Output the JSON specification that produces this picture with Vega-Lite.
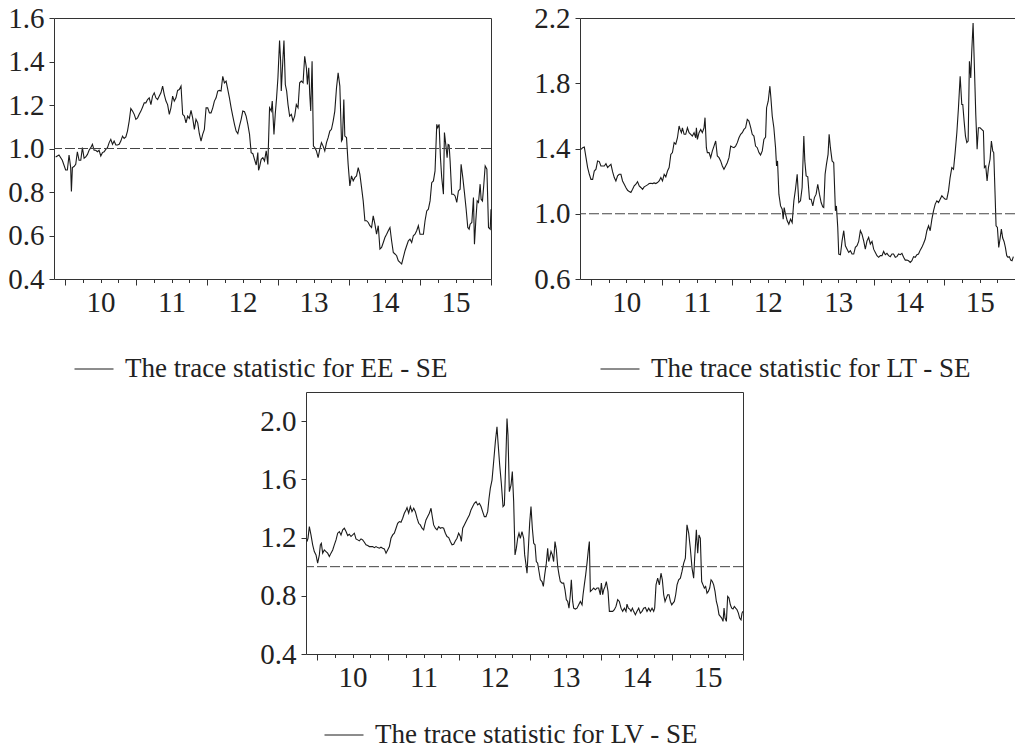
{
"$schema": "https://vega.github.io/schema/vega-lite/v6.json",
"background": "white",
"padding": {"left": 7, "top": 3, "right": 0, "bottom": 0},
"config": {
  "font": "Liberation Serif",
  "view": {"stroke": "#333", "strokeWidth": 1},
  "axis": {"labelFont": "Liberation Serif", "labelFontSize": 29, "labelColor": "#222", "domain": false, "tickColor": "#333", "tickWidth": 1, "grid": false, "title": null, "labelOverlap": false, "labelFlush": false}
},
"datasets": {
"ee": [
{"t":2009.868,"v":0.961},{"t":2009.915,"v":0.970},{"t":2009.962,"v":0.946},{"t":2010.009,"v":0.901},{"t":2010.033,"v":0.901},{"t":2010.057,"v":0.970},{"t":2010.080,"v":0.912},{"t":2010.090,"v":0.802},{"t":2010.104,"v":0.912},{"t":2010.127,"v":0.917},{"t":2010.151,"v":0.927},{"t":2010.174,"v":0.985},{"t":2010.198,"v":0.946},{"t":2010.222,"v":0.946},{"t":2010.245,"v":1.004},{"t":2010.269,"v":0.955},{"t":2010.292,"v":0.961},{"t":2010.316,"v":0.973},{"t":2010.339,"v":0.992},{"t":2010.363,"v":1.004},{"t":2010.386,"v":1.019},{"t":2010.410,"v":0.992},{"t":2010.433,"v":0.992},{"t":2010.457,"v":0.985},{"t":2010.480,"v":0.992},{"t":2010.504,"v":0.966},{"t":2010.527,"v":0.981},{"t":2010.551,"v":0.985},{"t":2010.574,"v":0.996},{"t":2010.598,"v":1.004},{"t":2010.622,"v":1.027},{"t":2010.645,"v":1.042},{"t":2010.669,"v":1.019},{"t":2010.692,"v":1.034},{"t":2010.716,"v":1.016},{"t":2010.739,"v":1.016},{"t":2010.763,"v":1.019},{"t":2010.786,"v":1.034},{"t":2010.810,"v":1.057},{"t":2010.833,"v":1.046},{"t":2010.857,"v":1.053},{"t":2010.880,"v":1.080},{"t":2010.904,"v":1.126},{"t":2010.927,"v":1.184},{"t":2010.951,"v":1.172},{"t":2010.975,"v":1.157},{"t":2010.998,"v":1.134},{"t":2011.022,"v":1.141},{"t":2011.045,"v":1.157},{"t":2011.069,"v":1.172},{"t":2011.092,"v":1.190},{"t":2011.116,"v":1.210},{"t":2011.139,"v":1.210},{"t":2011.163,"v":1.225},{"t":2011.186,"v":1.233},{"t":2011.210,"v":1.202},{"t":2011.233,"v":1.241},{"t":2011.257,"v":1.256},{"t":2011.280,"v":1.233},{"t":2011.304,"v":1.225},{"t":2011.328,"v":1.241},{"t":2011.351,"v":1.256},{"t":2011.375,"v":1.287},{"t":2011.398,"v":1.248},{"t":2011.422,"v":1.218},{"t":2011.445,"v":1.202},{"t":2011.469,"v":1.157},{"t":2011.492,"v":1.187},{"t":2011.516,"v":1.241},{"t":2011.539,"v":1.218},{"t":2011.563,"v":1.233},{"t":2011.586,"v":1.267},{"t":2011.610,"v":1.271},{"t":2011.634,"v":1.287},{"t":2011.657,"v":1.157},{"t":2011.681,"v":1.149},{"t":2011.704,"v":1.118},{"t":2011.728,"v":1.149},{"t":2011.751,"v":1.138},{"t":2011.775,"v":1.175},{"t":2011.798,"v":1.141},{"t":2011.822,"v":1.088},{"t":2011.845,"v":1.134},{"t":2011.869,"v":1.118},{"t":2011.892,"v":1.068},{"t":2011.916,"v":1.034},{"t":2011.939,"v":1.065},{"t":2011.963,"v":1.088},{"t":2011.987,"v":1.187},{"t":2012.010,"v":1.187},{"t":2012.034,"v":1.164},{"t":2012.057,"v":1.164},{"t":2012.081,"v":1.187},{"t":2012.104,"v":1.218},{"t":2012.128,"v":1.233},{"t":2012.151,"v":1.264},{"t":2012.175,"v":1.267},{"t":2012.198,"v":1.264},{"t":2012.222,"v":1.332},{"t":2012.245,"v":1.302},{"t":2012.269,"v":1.310},{"t":2012.293,"v":1.271},{"t":2012.316,"v":1.233},{"t":2012.340,"v":1.187},{"t":2012.363,"v":1.149},{"t":2012.387,"v":1.111},{"t":2012.410,"v":1.080},{"t":2012.434,"v":1.068},{"t":2012.457,"v":1.103},{"t":2012.481,"v":1.134},{"t":2012.504,"v":1.172},{"t":2012.528,"v":1.169},{"t":2012.551,"v":1.149},{"t":2012.575,"v":1.111},{"t":2012.599,"v":1.065},{"t":2012.622,"v":0.981},{"t":2012.646,"v":0.976},{"t":2012.669,"v":0.950},{"t":2012.693,"v":0.924},{"t":2012.716,"v":0.981},{"t":2012.726,"v":0.900},{"t":2012.740,"v":0.915},{"t":2012.763,"v":0.950},{"t":2012.787,"v":0.958},{"t":2012.810,"v":0.943},{"t":2012.834,"v":0.989},{"t":2012.857,"v":0.927},{"t":2012.881,"v":1.187},{"t":2012.905,"v":1.172},{"t":2012.919,"v":1.218},{"t":2012.943,"v":1.065},{"t":2012.961,"v":1.157},{"t":2012.980,"v":1.233},{"t":2012.999,"v":1.325},{"t":2013.022,"v":1.496},{"t":2013.037,"v":1.401},{"t":2013.046,"v":1.264},{"t":2013.070,"v":1.417},{"t":2013.084,"v":1.496},{"t":2013.103,"v":1.294},{"t":2013.122,"v":1.264},{"t":2013.141,"v":1.202},{"t":2013.164,"v":1.149},{"t":2013.188,"v":1.157},{"t":2013.211,"v":1.126},{"t":2013.235,"v":1.149},{"t":2013.258,"v":1.202},{"t":2013.282,"v":1.187},{"t":2013.305,"v":1.302},{"t":2013.329,"v":1.310},{"t":2013.353,"v":1.302},{"t":2013.376,"v":1.424},{"t":2013.400,"v":1.371},{"t":2013.414,"v":1.294},{"t":2013.433,"v":1.371},{"t":2013.447,"v":1.248},{"t":2013.461,"v":1.172},{"t":2013.480,"v":1.401},{"t":2013.499,"v":1.011},{"t":2013.518,"v":1.004},{"t":2013.541,"v":0.989},{"t":2013.565,"v":0.958},{"t":2013.588,"v":0.996},{"t":2013.612,"v":1.027},{"t":2013.635,"v":1.011},{"t":2013.659,"v":0.989},{"t":2013.683,"v":1.027},{"t":2013.706,"v":1.050},{"t":2013.730,"v":1.080},{"t":2013.753,"v":1.088},{"t":2013.777,"v":1.126},{"t":2013.800,"v":1.172},{"t":2013.824,"v":1.279},{"t":2013.847,"v":1.348},{"t":2013.871,"v":1.287},{"t":2013.894,"v":1.034},{"t":2013.908,"v":1.042},{"t":2013.927,"v":1.225},{"t":2013.941,"v":1.057},{"t":2013.965,"v":1.050},{"t":2013.988,"v":0.927},{"t":2014.012,"v":0.828},{"t":2014.035,"v":0.874},{"t":2014.059,"v":0.851},{"t":2014.082,"v":0.866},{"t":2014.106,"v":0.874},{"t":2014.130,"v":0.912},{"t":2014.153,"v":0.882},{"t":2014.177,"v":0.820},{"t":2014.200,"v":0.759},{"t":2014.224,"v":0.668},{"t":2014.247,"v":0.668},{"t":2014.271,"v":0.660},{"t":2014.294,"v":0.645},{"t":2014.318,"v":0.637},{"t":2014.341,"v":0.690},{"t":2014.365,"v":0.652},{"t":2014.388,"v":0.606},{"t":2014.412,"v":0.645},{"t":2014.436,"v":0.538},{"t":2014.459,"v":0.545},{"t":2014.483,"v":0.568},{"t":2014.506,"v":0.591},{"t":2014.530,"v":0.606},{"t":2014.553,"v":0.622},{"t":2014.577,"v":0.637},{"t":2014.600,"v":0.576},{"t":2014.624,"v":0.522},{"t":2014.647,"v":0.515},{"t":2014.671,"v":0.507},{"t":2014.694,"v":0.484},{"t":2014.718,"v":0.476},{"t":2014.742,"v":0.469},{"t":2014.765,"v":0.499},{"t":2014.789,"v":0.530},{"t":2014.812,"v":0.553},{"t":2014.836,"v":0.576},{"t":2014.859,"v":0.583},{"t":2014.883,"v":0.568},{"t":2014.906,"v":0.599},{"t":2014.930,"v":0.606},{"t":2014.953,"v":0.622},{"t":2014.977,"v":0.645},{"t":2015.000,"v":0.606},{"t":2015.024,"v":0.606},{"t":2015.048,"v":0.606},{"t":2015.071,"v":0.668},{"t":2015.095,"v":0.713},{"t":2015.118,"v":0.721},{"t":2015.142,"v":0.759},{"t":2015.165,"v":0.843},{"t":2015.189,"v":0.851},{"t":2015.212,"v":0.897},{"t":2015.236,"v":1.111},{"t":2015.250,"v":1.096},{"t":2015.269,"v":1.111},{"t":2015.288,"v":0.958},{"t":2015.306,"v":0.866},{"t":2015.330,"v":0.790},{"t":2015.344,"v":1.073},{"t":2015.368,"v":1.004},{"t":2015.382,"v":0.958},{"t":2015.396,"v":1.019},{"t":2015.410,"v":1.016},{"t":2015.424,"v":0.943},{"t":2015.447,"v":0.790},{"t":2015.471,"v":0.790},{"t":2015.494,"v":0.782},{"t":2015.518,"v":0.752},{"t":2015.541,"v":0.805},{"t":2015.565,"v":0.813},{"t":2015.579,"v":0.927},{"t":2015.603,"v":0.866},{"t":2015.626,"v":0.797},{"t":2015.650,"v":0.721},{"t":2015.673,"v":0.637},{"t":2015.692,"v":0.629},{"t":2015.706,"v":0.652},{"t":2015.730,"v":0.660},{"t":2015.753,"v":0.775},{"t":2015.767,"v":0.560},{"t":2015.786,"v":0.668},{"t":2015.805,"v":0.759},{"t":2015.824,"v":0.752},{"t":2015.847,"v":0.836},{"t":2015.861,"v":0.767},{"t":2015.880,"v":0.759},{"t":2015.899,"v":0.836},{"t":2015.918,"v":0.920},{"t":2015.942,"v":0.905},{"t":2015.965,"v":0.637},{"t":2015.989,"v":0.629},{"t":2016.000,"v":0.721}
],
"lt": [
{"t":2009.859,"v":1.395},{"t":2009.883,"v":1.405},{"t":2009.906,"v":1.409},{"t":2009.930,"v":1.344},{"t":2009.953,"v":1.283},{"t":2009.977,"v":1.242},{"t":2010.000,"v":1.211},{"t":2010.024,"v":1.211},{"t":2010.047,"v":1.262},{"t":2010.071,"v":1.273},{"t":2010.094,"v":1.324},{"t":2010.118,"v":1.320},{"t":2010.141,"v":1.293},{"t":2010.165,"v":1.293},{"t":2010.189,"v":1.293},{"t":2010.212,"v":1.307},{"t":2010.236,"v":1.283},{"t":2010.259,"v":1.293},{"t":2010.283,"v":1.303},{"t":2010.306,"v":1.258},{"t":2010.330,"v":1.222},{"t":2010.353,"v":1.201},{"t":2010.377,"v":1.232},{"t":2010.400,"v":1.242},{"t":2010.424,"v":1.242},{"t":2010.447,"v":1.201},{"t":2010.471,"v":1.181},{"t":2010.494,"v":1.161},{"t":2010.518,"v":1.144},{"t":2010.542,"v":1.136},{"t":2010.565,"v":1.130},{"t":2010.589,"v":1.150},{"t":2010.612,"v":1.171},{"t":2010.636,"v":1.181},{"t":2010.659,"v":1.197},{"t":2010.683,"v":1.171},{"t":2010.706,"v":1.161},{"t":2010.730,"v":1.150},{"t":2010.753,"v":1.165},{"t":2010.777,"v":1.171},{"t":2010.800,"v":1.177},{"t":2010.824,"v":1.185},{"t":2010.847,"v":1.187},{"t":2010.871,"v":1.185},{"t":2010.894,"v":1.189},{"t":2010.918,"v":1.185},{"t":2010.941,"v":1.191},{"t":2010.965,"v":1.201},{"t":2010.989,"v":1.222},{"t":2011.012,"v":1.201},{"t":2011.036,"v":1.242},{"t":2011.059,"v":1.226},{"t":2011.083,"v":1.262},{"t":2011.106,"v":1.283},{"t":2011.130,"v":1.364},{"t":2011.153,"v":1.375},{"t":2011.177,"v":1.436},{"t":2011.200,"v":1.426},{"t":2011.224,"v":1.466},{"t":2011.247,"v":1.538},{"t":2011.261,"v":1.517},{"t":2011.280,"v":1.497},{"t":2011.294,"v":1.527},{"t":2011.318,"v":1.487},{"t":2011.341,"v":1.487},{"t":2011.365,"v":1.527},{"t":2011.388,"v":1.497},{"t":2011.412,"v":1.487},{"t":2011.435,"v":1.476},{"t":2011.459,"v":1.497},{"t":2011.482,"v":1.466},{"t":2011.492,"v":1.527},{"t":2011.506,"v":1.456},{"t":2011.529,"v":1.497},{"t":2011.553,"v":1.517},{"t":2011.576,"v":1.497},{"t":2011.600,"v":1.527},{"t":2011.614,"v":1.589},{"t":2011.633,"v":1.405},{"t":2011.647,"v":1.375},{"t":2011.671,"v":1.375},{"t":2011.694,"v":1.344},{"t":2011.718,"v":1.385},{"t":2011.741,"v":1.415},{"t":2011.765,"v":1.446},{"t":2011.788,"v":1.354},{"t":2011.812,"v":1.344},{"t":2011.835,"v":1.324},{"t":2011.859,"v":1.293},{"t":2011.882,"v":1.273},{"t":2011.906,"v":1.293},{"t":2011.929,"v":1.313},{"t":2011.953,"v":1.344},{"t":2011.977,"v":1.415},{"t":2012.000,"v":1.409},{"t":2012.024,"v":1.405},{"t":2012.047,"v":1.415},{"t":2012.071,"v":1.436},{"t":2012.094,"v":1.466},{"t":2012.118,"v":1.487},{"t":2012.141,"v":1.497},{"t":2012.165,"v":1.517},{"t":2012.188,"v":1.527},{"t":2012.212,"v":1.578},{"t":2012.235,"v":1.568},{"t":2012.259,"v":1.531},{"t":2012.282,"v":1.487},{"t":2012.306,"v":1.476},{"t":2012.329,"v":1.415},{"t":2012.353,"v":1.405},{"t":2012.377,"v":1.375},{"t":2012.400,"v":1.360},{"t":2012.424,"v":1.385},{"t":2012.447,"v":1.456},{"t":2012.471,"v":1.470},{"t":2012.485,"v":1.650},{"t":2012.508,"v":1.690},{"t":2012.532,"v":1.782},{"t":2012.546,"v":1.711},{"t":2012.565,"v":1.599},{"t":2012.588,"v":1.527},{"t":2012.612,"v":1.405},{"t":2012.626,"v":1.293},{"t":2012.640,"v":1.324},{"t":2012.659,"v":1.120},{"t":2012.683,"v":1.048},{"t":2012.706,"v":1.028},{"t":2012.720,"v":0.967},{"t":2012.734,"v":1.038},{"t":2012.753,"v":0.997},{"t":2012.777,"v":0.957},{"t":2012.800,"v":0.936},{"t":2012.824,"v":0.967},{"t":2012.847,"v":0.946},{"t":2012.871,"v":1.079},{"t":2012.894,"v":1.150},{"t":2012.918,"v":1.242},{"t":2012.941,"v":1.069},{"t":2012.965,"v":1.079},{"t":2012.988,"v":1.161},{"t":2013.012,"v":1.476},{"t":2013.026,"v":1.324},{"t":2013.045,"v":1.232},{"t":2013.068,"v":1.226},{"t":2013.092,"v":1.089},{"t":2013.115,"v":1.089},{"t":2013.139,"v":1.048},{"t":2013.162,"v":1.099},{"t":2013.186,"v":1.120},{"t":2013.209,"v":1.181},{"t":2013.233,"v":1.120},{"t":2013.257,"v":1.069},{"t":2013.280,"v":1.042},{"t":2013.294,"v":1.038},{"t":2013.313,"v":1.242},{"t":2013.332,"v":1.303},{"t":2013.355,"v":1.364},{"t":2013.370,"v":1.487},{"t":2013.388,"v":1.405},{"t":2013.412,"v":1.324},{"t":2013.435,"v":1.313},{"t":2013.459,"v":1.018},{"t":2013.473,"v":1.048},{"t":2013.492,"v":0.916},{"t":2013.506,"v":0.753},{"t":2013.530,"v":0.749},{"t":2013.553,"v":0.834},{"t":2013.577,"v":0.896},{"t":2013.600,"v":0.804},{"t":2013.624,"v":0.783},{"t":2013.647,"v":0.763},{"t":2013.671,"v":0.773},{"t":2013.694,"v":0.753},{"t":2013.718,"v":0.753},{"t":2013.741,"v":0.794},{"t":2013.765,"v":0.804},{"t":2013.788,"v":0.830},{"t":2013.812,"v":0.896},{"t":2013.835,"v":0.875},{"t":2013.859,"v":0.834},{"t":2013.882,"v":0.783},{"t":2013.906,"v":0.834},{"t":2013.929,"v":0.855},{"t":2013.953,"v":0.814},{"t":2013.977,"v":0.830},{"t":2014.000,"v":0.783},{"t":2014.024,"v":0.763},{"t":2014.047,"v":0.743},{"t":2014.071,"v":0.733},{"t":2014.094,"v":0.743},{"t":2014.118,"v":0.743},{"t":2014.141,"v":0.769},{"t":2014.165,"v":0.749},{"t":2014.188,"v":0.757},{"t":2014.212,"v":0.743},{"t":2014.235,"v":0.737},{"t":2014.259,"v":0.753},{"t":2014.282,"v":0.753},{"t":2014.306,"v":0.733},{"t":2014.329,"v":0.737},{"t":2014.353,"v":0.753},{"t":2014.377,"v":0.749},{"t":2014.400,"v":0.757},{"t":2014.424,"v":0.733},{"t":2014.447,"v":0.716},{"t":2014.471,"v":0.716},{"t":2014.494,"v":0.712},{"t":2014.518,"v":0.702},{"t":2014.541,"v":0.712},{"t":2014.565,"v":0.737},{"t":2014.588,"v":0.733},{"t":2014.612,"v":0.749},{"t":2014.635,"v":0.753},{"t":2014.659,"v":0.777},{"t":2014.682,"v":0.794},{"t":2014.706,"v":0.818},{"t":2014.730,"v":0.845},{"t":2014.753,"v":0.896},{"t":2014.777,"v":0.926},{"t":2014.800,"v":0.896},{"t":2014.824,"v":0.967},{"t":2014.847,"v":1.018},{"t":2014.871,"v":1.059},{"t":2014.894,"v":1.079},{"t":2014.918,"v":1.069},{"t":2014.941,"v":1.089},{"t":2014.965,"v":1.110},{"t":2014.988,"v":1.099},{"t":2015.012,"v":1.089},{"t":2015.035,"v":1.089},{"t":2015.059,"v":1.140},{"t":2015.082,"v":1.222},{"t":2015.106,"v":1.283},{"t":2015.130,"v":1.273},{"t":2015.153,"v":1.375},{"t":2015.177,"v":1.497},{"t":2015.200,"v":1.650},{"t":2015.224,"v":1.843},{"t":2015.247,"v":1.670},{"t":2015.261,"v":1.670},{"t":2015.280,"v":1.568},{"t":2015.299,"v":1.476},{"t":2015.318,"v":1.436},{"t":2015.337,"v":1.446},{"t":2015.355,"v":1.935},{"t":2015.374,"v":1.833},{"t":2015.388,"v":1.996},{"t":2015.407,"v":2.169},{"t":2015.426,"v":1.894},{"t":2015.445,"v":1.609},{"t":2015.464,"v":1.395},{"t":2015.482,"v":1.527},{"t":2015.506,"v":1.527},{"t":2015.529,"v":1.517},{"t":2015.553,"v":1.507},{"t":2015.567,"v":1.283},{"t":2015.586,"v":1.293},{"t":2015.605,"v":1.201},{"t":2015.624,"v":1.283},{"t":2015.647,"v":1.334},{"t":2015.666,"v":1.446},{"t":2015.685,"v":1.385},{"t":2015.699,"v":1.375},{"t":2015.718,"v":1.120},{"t":2015.732,"v":0.926},{"t":2015.751,"v":0.916},{"t":2015.770,"v":0.794},{"t":2015.788,"v":0.845},{"t":2015.807,"v":0.906},{"t":2015.826,"v":0.851},{"t":2015.845,"v":0.830},{"t":2015.864,"v":0.794},{"t":2015.883,"v":0.743},{"t":2015.901,"v":0.733},{"t":2015.920,"v":0.737},{"t":2015.939,"v":0.716},{"t":2015.958,"v":0.712},{"t":2015.977,"v":0.737}
],
"lv": [
{"t":2009.859,"v":1.173},{"t":2009.873,"v":1.195},{"t":2009.892,"v":1.275},{"t":2009.915,"v":1.218},{"t":2009.939,"v":1.150},{"t":2009.962,"v":1.104},{"t":2009.986,"v":1.081},{"t":2010.009,"v":1.024},{"t":2010.033,"v":1.081},{"t":2010.047,"v":1.150},{"t":2010.061,"v":1.161},{"t":2010.080,"v":1.093},{"t":2010.103,"v":1.115},{"t":2010.127,"v":1.104},{"t":2010.150,"v":1.093},{"t":2010.174,"v":1.070},{"t":2010.197,"v":1.093},{"t":2010.221,"v":1.115},{"t":2010.244,"v":1.150},{"t":2010.268,"v":1.184},{"t":2010.291,"v":1.230},{"t":2010.315,"v":1.241},{"t":2010.338,"v":1.218},{"t":2010.362,"v":1.253},{"t":2010.385,"v":1.264},{"t":2010.409,"v":1.241},{"t":2010.432,"v":1.214},{"t":2010.455,"v":1.223},{"t":2010.479,"v":1.207},{"t":2010.502,"v":1.218},{"t":2010.526,"v":1.230},{"t":2010.549,"v":1.191},{"t":2010.573,"v":1.184},{"t":2010.596,"v":1.177},{"t":2010.620,"v":1.191},{"t":2010.643,"v":1.184},{"t":2010.667,"v":1.168},{"t":2010.690,"v":1.150},{"t":2010.714,"v":1.145},{"t":2010.737,"v":1.138},{"t":2010.761,"v":1.138},{"t":2010.784,"v":1.138},{"t":2010.808,"v":1.131},{"t":2010.831,"v":1.138},{"t":2010.855,"v":1.131},{"t":2010.878,"v":1.127},{"t":2010.901,"v":1.134},{"t":2010.925,"v":1.127},{"t":2010.948,"v":1.122},{"t":2010.972,"v":1.093},{"t":2010.995,"v":1.115},{"t":2011.019,"v":1.138},{"t":2011.042,"v":1.195},{"t":2011.066,"v":1.218},{"t":2011.089,"v":1.230},{"t":2011.113,"v":1.264},{"t":2011.136,"v":1.298},{"t":2011.160,"v":1.310},{"t":2011.183,"v":1.305},{"t":2011.207,"v":1.333},{"t":2011.230,"v":1.367},{"t":2011.254,"v":1.390},{"t":2011.268,"v":1.406},{"t":2011.291,"v":1.367},{"t":2011.315,"v":1.413},{"t":2011.338,"v":1.378},{"t":2011.362,"v":1.401},{"t":2011.385,"v":1.378},{"t":2011.409,"v":1.333},{"t":2011.432,"v":1.298},{"t":2011.455,"v":1.287},{"t":2011.479,"v":1.264},{"t":2011.502,"v":1.253},{"t":2011.517,"v":1.287},{"t":2011.535,"v":1.321},{"t":2011.559,"v":1.344},{"t":2011.582,"v":1.367},{"t":2011.606,"v":1.401},{"t":2011.620,"v":1.355},{"t":2011.643,"v":1.287},{"t":2011.667,"v":1.264},{"t":2011.690,"v":1.253},{"t":2011.714,"v":1.275},{"t":2011.737,"v":1.264},{"t":2011.761,"v":1.269},{"t":2011.784,"v":1.264},{"t":2011.808,"v":1.230},{"t":2011.831,"v":1.207},{"t":2011.855,"v":1.200},{"t":2011.878,"v":1.173},{"t":2011.902,"v":1.150},{"t":2011.925,"v":1.154},{"t":2011.948,"v":1.177},{"t":2011.972,"v":1.195},{"t":2011.995,"v":1.230},{"t":2012.019,"v":1.207},{"t":2012.033,"v":1.173},{"t":2012.052,"v":1.264},{"t":2012.075,"v":1.287},{"t":2012.099,"v":1.310},{"t":2012.122,"v":1.333},{"t":2012.146,"v":1.355},{"t":2012.169,"v":1.390},{"t":2012.193,"v":1.413},{"t":2012.216,"v":1.435},{"t":2012.240,"v":1.447},{"t":2012.263,"v":1.424},{"t":2012.287,"v":1.435},{"t":2012.310,"v":1.413},{"t":2012.333,"v":1.378},{"t":2012.357,"v":1.344},{"t":2012.380,"v":1.344},{"t":2012.404,"v":1.378},{"t":2012.423,"v":1.470},{"t":2012.441,"v":1.538},{"t":2012.465,"v":1.595},{"t":2012.488,"v":1.721},{"t":2012.512,"v":1.858},{"t":2012.535,"v":1.961},{"t":2012.549,"v":1.858},{"t":2012.573,"v":1.698},{"t":2012.596,"v":1.573},{"t":2012.620,"v":1.413},{"t":2012.639,"v":1.424},{"t":2012.662,"v":1.778},{"t":2012.676,"v":2.018},{"t":2012.690,"v":1.904},{"t":2012.709,"v":1.515},{"t":2012.733,"v":1.561},{"t":2012.751,"v":1.653},{"t":2012.770,"v":1.447},{"t":2012.789,"v":1.081},{"t":2012.808,"v":1.127},{"t":2012.826,"v":1.195},{"t":2012.845,"v":1.230},{"t":2012.864,"v":1.195},{"t":2012.887,"v":1.241},{"t":2012.911,"v":1.195},{"t":2012.925,"v":1.081},{"t":2012.944,"v":1.013},{"t":2012.958,"v":0.955},{"t":2012.977,"v":1.127},{"t":2012.995,"v":1.298},{"t":2013.014,"v":1.413},{"t":2013.033,"v":1.264},{"t":2013.052,"v":1.161},{"t":2013.071,"v":1.150},{"t":2013.089,"v":1.035},{"t":2013.108,"v":1.024},{"t":2013.127,"v":0.967},{"t":2013.146,"v":0.910},{"t":2013.169,"v":0.898},{"t":2013.188,"v":0.864},{"t":2013.207,"v":0.944},{"t":2013.230,"v":1.024},{"t":2013.249,"v":1.127},{"t":2013.263,"v":1.035},{"t":2013.277,"v":1.058},{"t":2013.296,"v":1.104},{"t":2013.315,"v":1.081},{"t":2013.333,"v":1.035},{"t":2013.352,"v":1.173},{"t":2013.371,"v":1.115},{"t":2013.390,"v":1.001},{"t":2013.409,"v":0.944},{"t":2013.427,"v":0.898},{"t":2013.451,"v":0.887},{"t":2013.474,"v":0.887},{"t":2013.493,"v":0.841},{"t":2013.512,"v":0.773},{"t":2013.531,"v":0.761},{"t":2013.549,"v":0.715},{"t":2013.568,"v":0.807},{"t":2013.582,"v":0.910},{"t":2013.601,"v":0.761},{"t":2013.615,"v":0.715},{"t":2013.639,"v":0.709},{"t":2013.662,"v":0.715},{"t":2013.686,"v":0.738},{"t":2013.709,"v":0.761},{"t":2013.733,"v":0.738},{"t":2013.747,"v":0.807},{"t":2013.765,"v":0.875},{"t":2013.784,"v":0.944},{"t":2013.803,"v":1.024},{"t":2013.822,"v":1.115},{"t":2013.836,"v":1.173},{"t":2013.850,"v":0.830},{"t":2013.873,"v":0.841},{"t":2013.897,"v":0.853},{"t":2013.920,"v":0.841},{"t":2013.944,"v":0.853},{"t":2013.967,"v":0.853},{"t":2013.991,"v":0.807},{"t":2014.005,"v":0.887},{"t":2014.024,"v":0.807},{"t":2014.038,"v":0.841},{"t":2014.057,"v":0.864},{"t":2014.075,"v":0.898},{"t":2014.099,"v":0.830},{"t":2014.118,"v":0.693},{"t":2014.141,"v":0.693},{"t":2014.165,"v":0.693},{"t":2014.188,"v":0.704},{"t":2014.211,"v":0.727},{"t":2014.235,"v":0.773},{"t":2014.258,"v":0.761},{"t":2014.282,"v":0.715},{"t":2014.305,"v":0.693},{"t":2014.329,"v":0.715},{"t":2014.352,"v":0.693},{"t":2014.366,"v":0.743},{"t":2014.385,"v":0.715},{"t":2014.404,"v":0.709},{"t":2014.423,"v":0.693},{"t":2014.442,"v":0.715},{"t":2014.460,"v":0.693},{"t":2014.484,"v":0.670},{"t":2014.507,"v":0.693},{"t":2014.531,"v":0.715},{"t":2014.554,"v":0.681},{"t":2014.578,"v":0.693},{"t":2014.601,"v":0.715},{"t":2014.625,"v":0.720},{"t":2014.648,"v":0.693},{"t":2014.672,"v":0.715},{"t":2014.695,"v":0.693},{"t":2014.719,"v":0.715},{"t":2014.742,"v":0.693},{"t":2014.756,"v":0.715},{"t":2014.775,"v":0.875},{"t":2014.798,"v":0.921},{"t":2014.822,"v":0.875},{"t":2014.845,"v":0.955},{"t":2014.864,"v":0.910},{"t":2014.883,"v":0.807},{"t":2014.902,"v":0.761},{"t":2014.920,"v":0.784},{"t":2014.939,"v":0.807},{"t":2014.958,"v":0.807},{"t":2014.977,"v":0.761},{"t":2014.996,"v":0.738},{"t":2015.014,"v":0.750},{"t":2015.033,"v":0.761},{"t":2015.052,"v":0.807},{"t":2015.071,"v":0.875},{"t":2015.094,"v":0.910},{"t":2015.118,"v":0.921},{"t":2015.141,"v":0.967},{"t":2015.165,"v":1.024},{"t":2015.188,"v":1.058},{"t":2015.211,"v":1.287},{"t":2015.235,"v":1.230},{"t":2015.258,"v":1.127},{"t":2015.282,"v":0.990},{"t":2015.305,"v":0.921},{"t":2015.319,"v":1.058},{"t":2015.343,"v":1.253},{"t":2015.362,"v":1.093},{"t":2015.380,"v":1.218},{"t":2015.399,"v":1.195},{"t":2015.418,"v":0.898},{"t":2015.437,"v":0.875},{"t":2015.456,"v":0.853},{"t":2015.474,"v":0.864},{"t":2015.493,"v":0.818},{"t":2015.512,"v":0.830},{"t":2015.531,"v":0.853},{"t":2015.550,"v":0.910},{"t":2015.568,"v":0.898},{"t":2015.587,"v":0.875},{"t":2015.606,"v":0.830},{"t":2015.625,"v":0.761},{"t":2015.643,"v":0.727},{"t":2015.662,"v":0.670},{"t":2015.681,"v":0.658},{"t":2015.700,"v":0.647},{"t":2015.719,"v":0.624},{"t":2015.733,"v":0.715},{"t":2015.747,"v":0.647},{"t":2015.766,"v":0.624},{"t":2015.784,"v":0.795},{"t":2015.803,"v":0.784},{"t":2015.822,"v":0.738},{"t":2015.841,"v":0.715},{"t":2015.859,"v":0.709},{"t":2015.878,"v":0.727},{"t":2015.897,"v":0.715},{"t":2015.916,"v":0.704},{"t":2015.935,"v":0.681},{"t":2015.953,"v":0.647},{"t":2015.972,"v":0.635},{"t":2015.986,"v":0.681},{"t":2016.000,"v":0.693}
]
},
"bounds": "flush",
"spacing": 374,
"resolve": {"scale": {"x": "independent", "y": "independent", "color": "independent"}, "axis": {"x": "independent", "y": "independent"}, "legend": {"color": "independent"}},
"vconcat": [
 {
  "bounds": "flush",
  "spacing": 89,
  "resolve": {"scale": {"x": "independent", "y": "independent", "color": "independent"}, "axis": {"x": "independent", "y": "independent"}, "legend": {"color": "independent"}},
  "hconcat": [
   {
    "width": 437, "height": 261,
    "layer": [
     {
      "data": {"name": "ee"},
      "mark": {"type": "line", "strokeWidth": 1.1, "color": "#1a1a1a"},
      "encoding": {
       "x": {"field": "t", "type": "quantitative", "scale": {"domain": [2009.845, 2016.0], "nice": false, "zero": false},
        "axis": {"values": [2010,2010.25,2010.5,2010.75,2011,2011.25,2011.5,2011.75,2012,2012.25,2012.5,2012.75,2013,2013.25,2013.5,2013.75,2014,2014.25,2014.5,2014.75,2015,2015.25,2015.5,2015.75,2016],
         "labelExpr": "datum.value % 1 === 0.5 ? format(datum.value - 2000.5, 'd') : ''",
         "tickSize": {"condition": {"test": "datum.value % 1 === 0", "value": 6}, "value": 3.5},
         "labelPadding": 6}},
       "y": {"field": "v", "type": "quantitative", "scale": {"domain": [0.4, 1.6], "nice": false, "zero": false},
        "axis": {"values": [0.4,0.6,0.8,1.0,1.2,1.4,1.6], "format": ".1f", "tickSize": 5, "labelPadding": 5}},
       "color": {"datum": "The trace statistic for EE - SE", "type": "nominal", "scale": {"range": ["#1a1a1a"]},
        "legend": {"orient": "none", "legendX": 20, "legendY": 331, "title": null, "symbolType": "stroke", "symbolSize": 1521, "symbolStrokeWidth": 1, "labelFont": "Liberation Serif", "labelFontSize": 27, "labelColor": "#222", "labelOffset": 11, "labelLimit": 800, "padding": 0}}
      }
     },
     {
      "data": {"values": [{"ref": 1.0}]},
      "mark": {"type": "rule", "strokeDash": [10, 3], "color": "#444", "strokeWidth": 1},
      "encoding": {"y": {"field": "ref", "type": "quantitative"}}
     }
    ]
   },
   {
    "width": 435, "height": 261,
    "layer": [
     {
      "data": {"name": "lt"},
      "mark": {"type": "line", "strokeWidth": 1.1, "color": "#1a1a1a"},
      "encoding": {
       "x": {"field": "t", "type": "quantitative", "scale": {"domain": [2009.845, 2016.0], "nice": false, "zero": false},
        "axis": {"values": [2010,2010.25,2010.5,2010.75,2011,2011.25,2011.5,2011.75,2012,2012.25,2012.5,2012.75,2013,2013.25,2013.5,2013.75,2014,2014.25,2014.5,2014.75,2015,2015.25,2015.5,2015.75,2016],
         "labelExpr": "datum.value % 1 === 0.5 ? format(datum.value - 2000.5, 'd') : ''",
         "tickSize": {"condition": {"test": "datum.value % 1 === 0", "value": 6}, "value": 3.5},
         "labelPadding": 6}},
       "y": {"field": "v", "type": "quantitative", "scale": {"domain": [0.6, 2.2], "nice": false, "zero": false},
        "axis": {"values": [0.6,0.8,1.0,1.2,1.4,1.6,1.8,2.0,2.2], "labelExpr": "(round(datum.value * 10) - 6) % 4 === 0 ? format(datum.value, '.1f') : ''", "tickSize": 5, "labelPadding": 5}},
       "color": {"datum": "The trace statistic for LT - SE", "type": "nominal", "scale": {"range": ["#1a1a1a"]},
        "legend": {"orient": "none", "legendX": 20, "legendY": 331, "title": null, "symbolType": "stroke", "symbolSize": 1521, "symbolStrokeWidth": 1, "labelFont": "Liberation Serif", "labelFontSize": 27, "labelColor": "#222", "labelOffset": 11, "labelLimit": 800, "padding": 0}}
      }
     },
     {
      "data": {"values": [{"ref": 1.0}]},
      "mark": {"type": "rule", "strokeDash": [10, 3], "color": "#444", "strokeWidth": 1},
      "encoding": {"y": {"field": "ref", "type": "quantitative"}}
     }
    ]
   }
  ]
 },
 {
  "bounds": "flush",
  "spacing": 0,
  "resolve": {"scale": {"x": "independent", "y": "independent", "color": "independent"}, "axis": {"x": "independent", "y": "independent"}, "legend": {"color": "independent"}},
  "hconcat": [
   {
    "width": 252, "height": 262,
    "view": {"stroke": null},
    "data": {"values": [{"s": ""}]},
    "mark": {"type": "text"},
    "encoding": {"text": {"field": "s", "type": "nominal"}}
   },
   {
    "width": 437, "height": 262,
    "layer": [
     {
      "data": {"name": "lv"},
      "mark": {"type": "line", "strokeWidth": 1.1, "color": "#1a1a1a"},
      "encoding": {
       "x": {"field": "t", "type": "quantitative", "scale": {"domain": [2009.845, 2016.0], "nice": false, "zero": false},
        "axis": {"values": [2010,2010.25,2010.5,2010.75,2011,2011.25,2011.5,2011.75,2012,2012.25,2012.5,2012.75,2013,2013.25,2013.5,2013.75,2014,2014.25,2014.5,2014.75,2015,2015.25,2015.5,2015.75,2016],
         "labelExpr": "datum.value % 1 === 0.5 ? format(datum.value - 2000.5, 'd') : ''",
         "tickSize": {"condition": {"test": "datum.value % 1 === 0", "value": 6}, "value": 3.5},
         "labelPadding": 6}},
       "y": {"field": "v", "type": "quantitative", "scale": {"domain": [0.4, 2.2], "nice": false, "zero": false},
        "axis": {"values": [0.4,0.6,0.8,1.0,1.2,1.4,1.6,1.8,2.0,2.2], "labelExpr": "(round(datum.value * 10) - 4) % 4 === 0 ? format(datum.value, '.1f') : ''", "tickSize": 5, "labelPadding": 5}},
       "color": {"datum": "The trace statistic for LV - SE", "type": "nominal", "scale": {"range": ["#1a1a1a"]},
        "legend": {"orient": "none", "legendX": 18, "legendY": 323, "title": null, "symbolType": "stroke", "symbolSize": 1521, "symbolStrokeWidth": 1, "labelFont": "Liberation Serif", "labelFontSize": 27, "labelColor": "#222", "labelOffset": 11, "labelLimit": 800, "padding": 0}}
      }
     },
     {
      "data": {"values": [{"ref": 1.0}]},
      "mark": {"type": "rule", "strokeDash": [10, 3], "color": "#444", "strokeWidth": 1},
      "encoding": {"y": {"field": "ref", "type": "quantitative"}}
     }
    ]
   }
  ]
 }
]
}
